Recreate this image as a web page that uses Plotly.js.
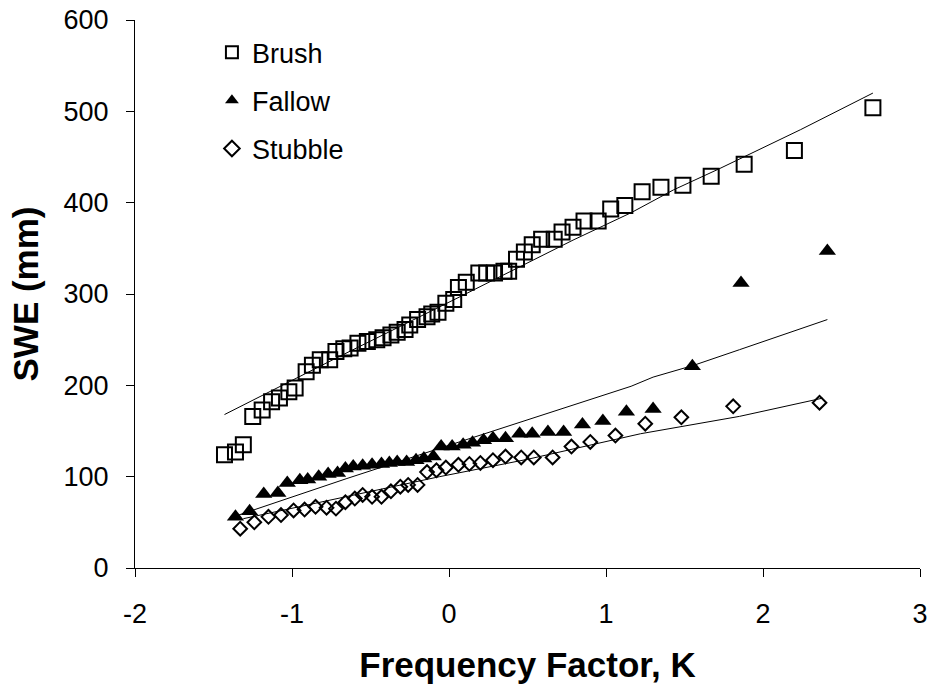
<!DOCTYPE html>
<html>
<head>
<meta charset="utf-8">
<script src="https://cdn.plot.ly/plotly-3.0.1.min.js"></script>
<style>html,body{margin:0;padding:0;background:#fff}#chart{width:933px;height:694px}</style>
</head>
<body>
<div id="chart"></div>
<script>
const brushK = [-1.43,-1.36,-1.31,-1.25,-1.19,-1.13,-1.08,-1.02,-0.98,-0.91,-0.87,-0.82,-0.76,-0.72,-0.67,-0.63,-0.58,-0.52,-0.46,-0.42,-0.37,-0.33,-0.28,-0.25,-0.20,-0.14,-0.11,-0.07,-0.02,0.03,0.06,0.11,0.19,0.24,0.29,0.35,0.38,0.43,0.48,0.53,0.59,0.67,0.72,0.79,0.86,0.95,1.03,1.12,1.23,1.35,1.49,1.67,1.88,2.20,2.70];
const brushSWE = [124,127,135,166,173,182,186,193,197,215,222,228,228,237,240,241,246,248,250,252,255,258,261,266,272,275,278,280,290,294,307,313,323,323,323,325,325,338,346,354,360,360,368,373,380,380,393,397,412,417,419,429,442,457,504];
const brushFitK = [-1.43,-0.74,0.07,0.45,0.79,1.16,1.43,1.72,1.88,2.24,2.70];
const brushFitSWE = [168,228,297,330,359,389,414,437,450,480,520];

const fallowK = [-1.36,-1.27,-1.18,-1.09,-1.03,-0.95,-0.90,-0.83,-0.77,-0.71,-0.66,-0.61,-0.55,-0.49,-0.43,-0.38,-0.33,-0.27,-0.21,-0.16,-0.10,-0.05,0.02,0.09,0.15,0.22,0.28,0.36,0.45,0.53,0.63,0.73,0.85,0.98,1.13,1.30,1.55,1.86,2.41];
const fallowSWE = [56,62,81,82,93,96,97,100,103,104,109,111,112,113,114,115,116,116,118,120,122,133,133,135,137,140,142,142,147,147,149,149,157,161,171,174,221,312,347];
const fallowFitK = [-1.34,-1.03,-0.65,-0.06,0.73,1.16,1.30,1.56,1.85,2.41];
const fallowFitSWE = [58,76,98,131,175,199,209,222,239,272];

const stubbleK = [-1.33,-1.24,-1.15,-1.07,-0.99,-0.92,-0.85,-0.78,-0.72,-0.66,-0.60,-0.55,-0.49,-0.43,-0.37,-0.31,-0.26,-0.20,-0.14,-0.08,-0.02,0.06,0.13,0.20,0.28,0.36,0.46,0.54,0.66,0.78,0.90,1.06,1.25,1.48,1.81,2.36];
const stubbleSWE = [43,50,56,58,63,64,67,66,65,72,76,80,78,78,84,89,91,91,105,107,110,113,114,115,118,122,121,121,121,133,138,145,158,165,177,181];
const stubbleFitK = [-1.31,-0.06,0.50,1.22,1.85,2.38];
const stubbleFitSWE = [54,100,119,147,166,186];

const xTicks = [-2,-1,0,1,2,3];
const yTicks = [0,100,200,300,400,500,600];

const FONT = "Liberation Sans, Arial, sans-serif";
const fitLine = {color:'#000', width:1};
const tickFont = {family:FONT, size:27, color:'#000'};
const titleFont = {family:FONT, size:35, color:'#000'};

const traces = [
  {x: brushFitK, y: brushFitSWE, mode:'lines', line: fitLine, showlegend:false, hoverinfo:'skip'},
  {x: fallowFitK, y: fallowFitSWE, mode:'lines', line: fitLine, showlegend:false, hoverinfo:'skip'},
  {x: stubbleFitK, y: stubbleFitSWE, mode:'lines', line: fitLine, showlegend:false, hoverinfo:'skip'},
  {x: brushK, y: brushSWE, mode:'markers', name:'Brush', legendgroup:'a',
   marker:{symbol:'square-open', size:15, color:'#000', line:{width:2, color:'#000'}}},
  {x: fallowK, y: fallowSWE, mode:'markers', name:'Fallow', legendgroup:'b',
   marker:{symbol:'triangle-up', size:15, color:'#000', line:{width:0}}},
  {x: stubbleK, y: stubbleSWE, mode:'markers', name:'Stubble', legendgroup:'c',
   marker:{symbol:'diamond-open', size:10.5, color:'#000', line:{width:2, color:'#000'}}}
];

const layout = {
  width: 933, height: 694,
  margin: {l:135, r:13, t:20, b:126, pad:0},
  paper_bgcolor:'#fff', plot_bgcolor:'#fff',
  font: {family: FONT, size: 27, color:'#000'},
  showlegend: true,
  legend: {x: 0.098, y: 0.985, xanchor:'left', yanchor:'top', bgcolor:'rgba(0,0,0,0)',
           font:{family:FONT, size:27, color:'#000'}, tracegroupgap: 10, itemsizing:'constant'},
  xaxis: {range:[-2,3], tickvals: xTicks, ticktext: xTicks.map(String), ticks:'outside', ticklen:8, tickwidth:1,
          tickcolor:'#000', showline:true, linecolor:'#000', linewidth:1, showgrid:false, zeroline:false,
          tickfont: tickFont, ticklabelstandoff: 14,
          title:{text:'<b>Frequency Factor, K</b>', font:titleFont, standoff: 24},
          automargin:false, fixedrange:true},
  yaxis: {range:[0,600], tickvals: yTicks, ticktext: yTicks.map(String), ticks:'outside', ticklen:8, tickwidth:1,
          tickcolor:'#000', showline:true, linecolor:'#000', linewidth:1, showgrid:false, zeroline:false,
          tickfont: tickFont, ticklabelstandoff: 12,
          title:{text:'<b>SWE (mm)</b>', font:titleFont, standoff: 14},
          automargin:false, fixedrange:true}
};

Plotly.newPlot('chart', traces, layout, {displayModeBar:false, staticPlot:true});
</script>
</body>
</html>
